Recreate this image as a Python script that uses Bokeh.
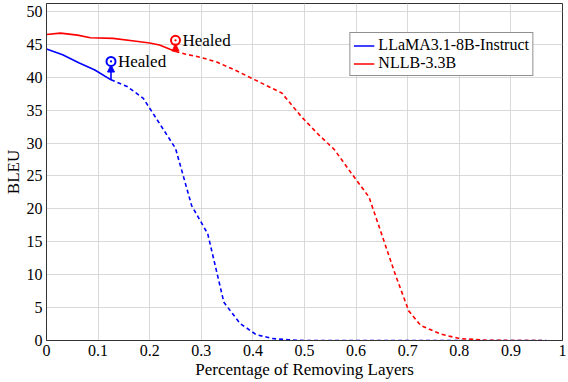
from bokeh.plotting import figure
from bokeh.models import Range1d, FixedTicker, Arrow, NormalHead, Legend, LegendItem
from bokeh.core.properties import value
from bokeh.embed import file_html
from bokeh.resources import INLINE

# ---- data ----
llama_solid_x = [0.0, 0.03125, 0.0625, 0.09375, 0.125]
llama_solid_y = [44.3, 43.4, 42.2, 41.1, 39.6]
llama_dash_x = [0.125, 0.15625, 0.1875, 0.21875, 0.25, 0.28125, 0.3125, 0.34375,
                0.375, 0.40625, 0.4375, 0.46875, 0.5, 0.5625, 0.625, 0.6875,
                0.75, 0.8125, 0.875, 0.9375, 0.96875]
llama_dash_y = [39.6, 38.6, 36.8, 33.0, 29.2, 20.5, 16.2, 5.8,
                2.6, 0.9, 0.3, 0.1, 0.0, 0.0, 0.0, 0.0,
                0.0, 0.0, 0.0, 0.0, 0.0]

nllb_solid_x = [0.0, 0.027, 0.06, 0.085, 0.129, 0.17, 0.2, 0.219, 0.25]
nllb_solid_y = [46.5, 46.7, 46.4, 46.0, 45.9, 45.5, 45.2, 44.9, 43.9]
nllb_dash_x = [0.25, 0.27, 0.3, 0.33, 0.365, 0.404, 0.456, 0.494, 0.527, 0.558,
               0.59, 0.625, 0.648, 0.677, 0.702, 0.725, 0.763, 0.8, 0.85, 0.9, 0.96]
nllb_dash_y = [43.9, 43.5, 43.0, 42.3, 41.1, 39.6, 37.6, 34.0, 31.3, 29.0,
               25.5, 21.8, 16.5, 9.8, 4.5, 2.3, 1.0, 0.3, 0.05, 0.0, 0.0]

healed_x = [0.125, 0.25]
healed_from = [39.6, 43.9]
healed_y = [42.4, 45.6]
healed_colors = ["#0000ff", "#ff0000"]
healed_text = ["Healed", "Healed"]

series_names = ["LLaMA3.1-8B-Instruct", "NLLB-3.3B"]
x_ticks = [0, 0.1, 0.2, 0.3, 0.4, 0.5, 0.6, 0.7, 0.8, 0.9, 1]
y_ticks = [0, 5, 10, 15, 20, 25, 30, 35, 40, 45, 50]
x_title = "Percentage of Removing Layers"
y_title = "BLEU"

FONT = "Liberation Serif"
BLUE = "#0000ff"
RED = "#ff0000"

p = figure(width=566, height=381, output_backend="svg", toolbar_location=None,
           x_range=Range1d(0, 1), y_range=Range1d(0, 51.2),
           min_border_left=44, min_border_right=4, min_border_top=3, min_border_bottom=38)

p.outline_line_color = "#333333"
p.outline_line_width = 1
p.background_fill_color = "white"
p.border_fill_color = "white"

for ax in (p.xaxis, p.yaxis):
    ax.major_label_text_font = FONT
    ax.major_label_text_font_size = "16px"
    ax.major_label_text_color = "black"
    ax.axis_label_text_font = FONT
    ax.axis_label_text_font_size = "17px"
    ax.axis_label_text_font_style = "normal"
    ax.axis_label_text_color = "black"
    ax.axis_line_color = "#333333"
    ax.major_tick_out = 0
    ax.major_tick_in = 0
    ax.minor_tick_out = 0
    ax.minor_tick_in = 0

p.xaxis.ticker = FixedTicker(ticks=x_ticks)
p.yaxis.ticker = FixedTicker(ticks=y_ticks)
p.xaxis.major_label_overrides = {0: "0", 1: "1"}
p.xaxis.axis_label = x_title
p.yaxis.axis_label = y_title
p.xaxis.major_label_standoff = 4
p.xaxis.axis_label_standoff = 1
p.yaxis.major_label_standoff = 4
p.yaxis.axis_label_standoff = 1

p.xgrid.ticker = FixedTicker(ticks=x_ticks)
p.ygrid.ticker = FixedTicker(ticks=y_ticks)
p.grid.grid_line_color = "#d9d9d9"
p.grid.grid_line_width = 1

# lines
r1 = p.line(llama_solid_x, llama_solid_y, line_color=BLUE, line_width=1.6)
p.line(llama_dash_x, llama_dash_y, line_color=BLUE, line_width=1.6, line_dash="4 3")
r2 = p.line(nllb_solid_x, nllb_solid_y, line_color=RED, line_width=1.6)
p.line(nllb_dash_x, nllb_dash_y, line_color=RED, line_width=1.6, line_dash="4 3")

# healed arrows and markers
for hx, hf, hy, hc in zip(healed_x, healed_from, healed_y, healed_colors):
    p.add_layout(Arrow(x_start=hx, y_start=hf, x_end=hx, y_end=hy - 0.55,
                       line_color=hc, line_width=1.6,
                       end=NormalHead(size=7, fill_color=hc, line_color=hc)))
p.scatter(healed_x, healed_y, marker="circle_dot", size=9, line_width=2,
          line_color=healed_colors, fill_color="white")
p.text(healed_x, healed_y, text=healed_text, x_offset=7, text_baseline="middle",
       text_align="left", text_font=value(FONT), text_font_size="17px", text_color="black")

legend = Legend(items=[LegendItem(label=series_names[0], renderers=[r1]),
                       LegendItem(label=series_names[1], renderers=[r2])],
                location="top_right", margin=29)
legend.label_text_font = FONT
legend.label_text_font_size = "16px"
legend.label_text_color = "black"
legend.padding = 3
legend.spacing = 0
legend.label_height = 17
legend.glyph_height = 17
legend.glyph_width = 21
legend.label_standoff = 4
legend.border_line_color = "#222222"
legend.border_line_width = 1
legend.background_fill_alpha = 1
p.add_layout(legend)

open("out.html", "w").write(file_html(p, INLINE))
